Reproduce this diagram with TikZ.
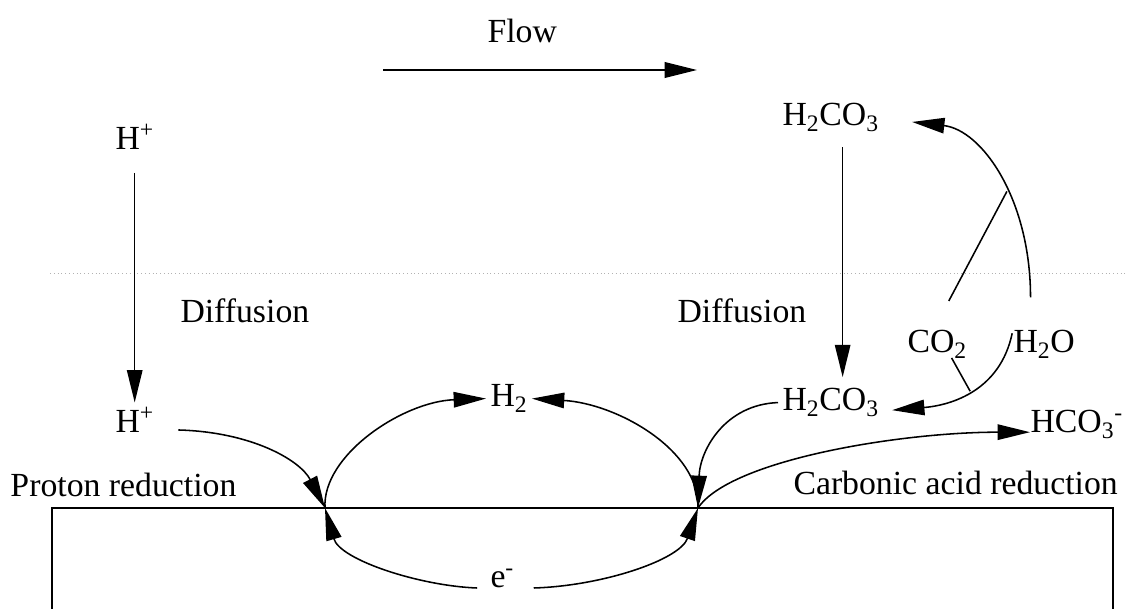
\documentclass[tikz,border=0pt]{standalone}
\usepackage{fontspec}
\setmainfont{Liberation Serif}
\usetikzlibrary{arrows.meta}

\begin{document}
\begin{tikzpicture}[x=0.025cm,y=-0.025cm,
  lbl/.style={anchor=base west,inner sep=3pt,font=\fontsize{24}{28}\selectfont},
  wire/.style={line width=1.1pt},
  arr/.style={wire,-{Triangle[length=23pt,width=11pt]}},
  dots/.style={gray!60,dotted,line width=0.7pt}]
\path[use as bounding box] (0,0) rectangle (1127,609);
\draw[dots] (50,273) -- (1127,273);
\draw[line width=0.8pt] (52,609) |- (1113,508) -- (1113,609);
\coordinate (contactL) at (325,508);
\coordinate (contactR) at (698,508);
\coordinate (flowS) at (383,70);
\coordinate (flowE) at (697,70);
\node[lbl] (flow) at (483,43) {Flow};
\node[lbl] (hTop) at (111,150) {H\textsuperscript{+}};
\node[lbl] (hBot) at (111,433) {H\textsuperscript{+}};
\node[lbl] (diffL) at (176,323) {Diffusion};
\node[lbl] (diffR) at (673,323) {Diffusion};
\node[lbl] (acidTop) at (778,126) {H\textsubscript{2}CO\textsubscript{3}};
\node[lbl] (acidBot) at (778,411) {H\textsubscript{2}CO\textsubscript{3}};
\node[lbl] (co2) at (903,353) {CO\textsubscript{2}};
\node[lbl] (h2o) at (1009,353) {H\textsubscript{2}O};
\node[lbl] (hco3) at (1026,433) {HCO\textsubscript{3}\textsuperscript{-}};
\node[lbl] (h2) at (486,407) {H\textsubscript{2}};
\node[lbl] (elec) at (486,588) {e\textsuperscript{-}};
\node[lbl] (protonRed) at (6,497) {Proton reduction};
\node[lbl] (acidRed) at (789,495) {Carbonic acid reduction};
\draw[arr,line width=1.6pt] (flowS) -- (flowE);
\draw[arr,shorten <=13pt] (hTop.south) -- (hBot.north);
\draw[arr,shorten <=8pt,shorten >=5pt] ([xshift=0.3cm]acidTop.south) -- ([xshift=0.3cm]acidBot.north);
\draw[arr] ([xshift=-0.34cm,yshift=0.72cm]h2o.north) .. controls +(0,-98) and +(70,8) .. ([xshift=0.72cm,yshift=-0.11cm]acidTop.east) coordinate[pos=0.42] (knee);
\draw[wire] ([xshift=0.29cm,yshift=0.63cm]co2.north) -- (knee);
\draw[arr] ([xshift=0.08cm,yshift=0.28cm]h2o.west) .. controls +(-12,57) and +(60,-5) .. ([xshift=0.22cm,yshift=-0.19cm]acidBot.east) coordinate[pos=0.5] (knee2);
\draw[wire] ([xshift=0.36cm,yshift=0.12cm]co2.south) -- (knee2);
\draw[arr] ([xshift=0.5cm,yshift=-0.25cm]hBot.east) .. controls +(73,2) and +(-25,-48) .. (contactL);
\draw[arr] (contactL) .. controls +(-3,-53) and +(-83,3) .. (h2.west);
\draw[arr] (contactR) .. controls +(2,-58) and +(85,5) .. (h2.east);
\draw[arr] ([xshift=-0.22cm]elec.base west) .. controls +(-57,-2) and +(15,52) .. (contactL);
\draw[arr] ([xshift=0.38cm]elec.base east) .. controls +(68,-2) and +(-18,52) .. (contactR);
\draw[arr] (acidBot.west) .. controls +(-53,2) and +(2,-58) .. (contactR);
\draw[arr] (contactR) .. controls +(32,-48) and +(-130,0) .. ([xshift=0.1cm,yshift=-0.19cm]hco3.west);
\end{tikzpicture}
\end{document}
